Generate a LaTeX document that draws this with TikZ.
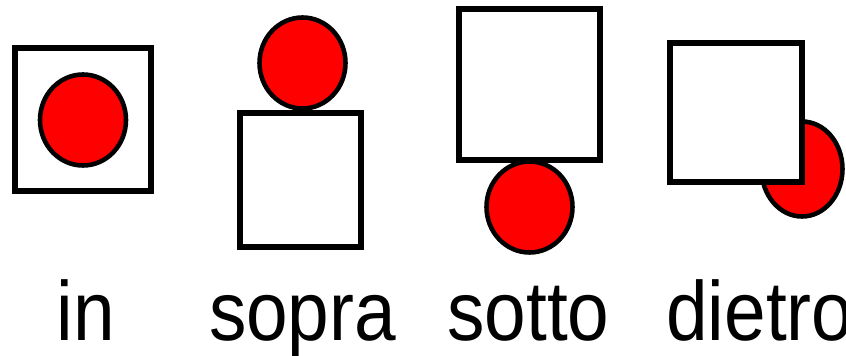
\documentclass[tikz,border=0pt]{standalone}
\usepackage{fontspec}
\newfontfamily\lblfont[FakeStretch=0.89]{Liberation Sans}
\usetikzlibrary{shapes.geometric}

\begin{document}
\begin{tikzpicture}[
  %--- square and disc styles ---
  box/.style={
    draw=black, fill=white, rectangle,
    inner sep=0pt, line width=3pt
  },
  disc/.style={
    draw=black, fill=red, ellipse,
    inner sep=0pt, line width=2.6pt,
    minimum width=1.72cm, minimum height=1.82cm
  },
  lbl/.style={
    font=\lblfont\fontsize{47.8}{50}\selectfont,
    inner sep=0pt, text=black
  }
]

%------------------------------------------------------------------
%  Page frame
%------------------------------------------------------------------
\useasboundingbox (0, 0) rectangle (16.92, 7.1);
\clip (0, 0) rectangle (16.92, 7.1);
\fill[white] (0, 0) rectangle (16.92, 7.1);

%------------------------------------------------------------------
%  in
%------------------------------------------------------------------
\node[box, minimum width=2.72cm, minimum height=2.86cm] (boxin) at (1.66, 4.71) {};
\node[disc] (discin) at (1.66, 4.70) {};

%------------------------------------------------------------------
%  sopra
%------------------------------------------------------------------
\node[disc] (discsopra) at (6.05, 5.84) {};
\node[box, minimum width=2.42cm, minimum height=2.68cm] (boxsopra) at (6.01, 3.50) {};

%------------------------------------------------------------------
%  sotto
%------------------------------------------------------------------
\node[disc] (discsotto) at (10.59, 2.96) {};
\node[box, minimum width=2.82cm, minimum height=3.02cm] (boxsotto) at (10.59, 5.41) {};

%------------------------------------------------------------------
%  dietro  (disc behind the square)
%------------------------------------------------------------------
\node[disc, minimum width=1.62cm, minimum height=1.90cm] (discdietro) at (16.04, 3.72) {};
\node[box, minimum width=2.64cm, minimum height=2.78cm] (boxdietro) at (14.72, 4.85) {};

%------------------------------------------------------------------
%  Labels
%------------------------------------------------------------------
\node[lbl, anchor=base] (lblin)    at (1.72, 0.30)  {in};
\node[lbl, anchor=base] (lblsopra) at (6.05, 0.30)  {sopra};
\node[lbl, anchor=base] (lblsotto) at (10.57, 0.30) {sotto};
\node[lbl, anchor=base west] (lbldietro) at (13.32, 0.30) {dietro};

\end{tikzpicture}
\end{document}
